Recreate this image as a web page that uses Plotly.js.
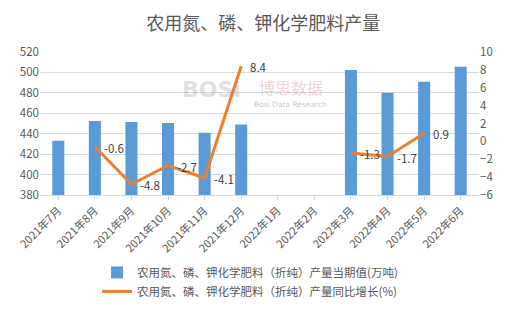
<!DOCTYPE html>
<html><head><meta charset="utf-8">
<script src="https://cdn.plot.ly/plotly-3.0.1.min.js"></script>
<style>html,body{margin:0;padding:0;background:#fff}#c{width:512px;height:319px}</style>
</head><body><div id="c"></div>
<script>
const categories = ["2021年7月","2021年8月","2021年9月","2021年10月","2021年11月","2021年12月","2022年1月","2022年2月","2022年3月","2022年4月","2022年5月","2022年6月"];
const output = [433, 452.5, 451.5, 450.5, 441, 449, null, null, 502.5, 480, 490.8, 505.6];
const growth = [null, -0.6, -4.8, -2.7, -4.1, 8.4, null, null, -1.3, -1.7, 0.9, null];
const seriesNames = ["农用氮、磷、钾化学肥料（折纯）产量当期值(万吨)", "农用氮、磷、钾化学肥料（折纯）产量同比增长(%)"];
const titleText = "农用氮、磷、钾化学肥料产量";

const font = "Noto Sans CJK SC, sans-serif";
const grey = "#595959";
const data = [
  {type:"bar", x:categories, y:output, name:seriesNames[0], marker:{color:"#5B9BD5"}, yaxis:"y", hoverinfo:"skip"},
  {type:"scatter", mode:"lines", x:categories, y:growth, name:seriesNames[1], yaxis:"y2",
   line:{color:"#ED7D31", width:3}, connectgaps:false}
];
const labelAnns = [];
growth.forEach((v,i)=>{
  if (v===null) return;
  labelAnns.push({x:categories[i], y:v, xref:"x", yref:"y2", text:v.toFixed(1), showarrow:false,
    xanchor:"left", yanchor:"middle", xshift:7, yshift:-1, font:{family:font, size:11.5, color:"#404040"}});
});
const layout = {
  width:512, height:319,
  margin:{l:40, r:33, t:52, b:124},
  paper_bgcolor:"#fff", plot_bgcolor:"#fff",
  font:{family:font, color:grey, size:11},
  title:{text:titleText, x:0.514, xanchor:"center", y:0.925, yanchor:"middle", font:{family:font, size:18, color:grey}},
  bargap:0.67,
  showlegend:true,
  legend:{orientation:"v", x:0.13, xanchor:"left", y:-0.44, yanchor:"top", font:{family:font, size:11.5, color:grey}, tracegroupgap:2, itemwidth:30},
  xaxis:{type:"category", tickangle:-45, tickfont:{family:font, size:11, color:grey}, showline:true, linecolor:"#d9d9d9", ticks:"outside", tickcolor:"#d9d9d9", ticklen:4, showgrid:false},
  yaxis:{range:[380,520], dtick:20, tickfont:{size:11.5, color:grey}, gridcolor:"#d9d9d9", zeroline:false, showline:false},
  yaxis2:{range:[-6,10], dtick:2, overlaying:"y", side:"right", tickfont:{size:11.5, color:grey}, showgrid:false, zeroline:false, showline:false},
  annotations:labelAnns.concat([
    {xref:"paper", yref:"paper", x:0.39, y:0.74, text:"<b>BOSi</b>", showarrow:false, font:{family:"DejaVu Sans", size:22, color:"rgba(150,150,150,0.3)"}, xanchor:"center", yanchor:"middle"},
    {xref:"paper", yref:"paper", x:0.572, y:0.755, text:"博思数据", showarrow:false, font:{family:font, size:16, color:"rgba(220,140,150,0.4)"}, xanchor:"center", yanchor:"middle"},
    {xref:"paper", yref:"paper", x:0.57, y:0.635, text:"Bosi Data Research", showarrow:false, font:{family:"DejaVu Sans", size:7.5, color:"rgba(120,120,120,0.45)"}, xanchor:"center", yanchor:"middle"}
  ])
};
Plotly.newPlot("c", data, layout, {displayModeBar:false, staticPlot:true});
</script></body></html>
